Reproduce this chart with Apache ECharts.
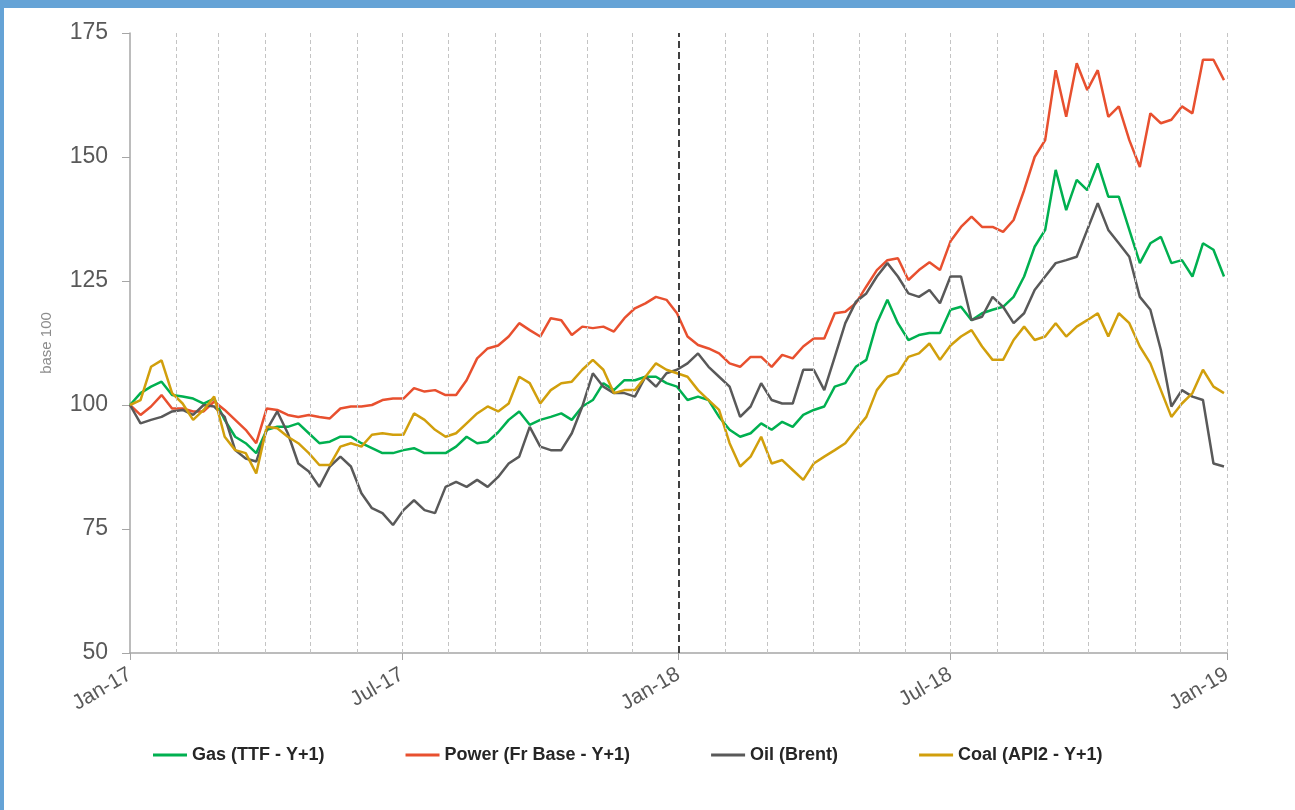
<!DOCTYPE html>
<html>
<head>
<meta charset="utf-8">
<title>Energy prices base 100</title>
<script src="https://cdn.jsdelivr.net/npm/echarts@6/dist/echarts.min.js"></script>
<style>
  html, body { margin: 0; padding: 0; background: #fff; }
  .frame { position: relative; width: 1295px; height: 810px; overflow: hidden; }
  .top-bar { position: absolute; left: 0; top: 0; width: 1295px; height: 8px; background: #65a3d6; z-index: 2; }
  .left-bar { position: absolute; left: 0; top: 0; width: 4px; height: 810px; background: #65a3d6; z-index: 2; }
  #chart { position: absolute; left: 0; top: 0; width: 1295px; height: 810px; }
</style>
</head>
<body>
<div class="frame">
  <div class="top-bar"></div>
  <div class="left-bar"></div>
  <div id="chart"></div>
</div>
<script>
// weekly samples, first one on 1 Jan 2017
var startYear = 2017
var sampleCount = 105
var DAY = 86400000

var gas = [
  100, 102.4, 103.7, 104.7, 102, 101.7, 101.3, 100.3, 101.3, 97,
  93.6, 92.3, 90.3, 95, 95.6, 95.6, 96.3, 94.3, 92.3, 92.6,
  93.6, 93.6, 92.3, 91.3, 90.3, 90.3, 90.9, 91.3, 90.3, 90.3,
  90.3, 91.6, 93.6, 92.3, 92.6, 94.5, 97, 98.7, 96, 97,
  97.6, 98.3, 97, 99.7, 101, 104.4, 103, 105, 105, 105.7,
  105.7, 104.4, 103.7, 101, 101.7, 101, 97.6, 95, 93.6, 94.3,
  96.3, 95, 96.6, 95.6, 98, 99, 99.7, 103.7, 104.4, 107.7,
  109.1, 116.5, 121.2, 116.5, 113.1, 114.1, 114.5, 114.5, 119.2, 119.8,
  117.1, 118.5, 119.2, 119.8, 121.8, 125.9, 131.9, 135.3, 147.4, 139.3,
  145.4, 143.3, 148.7, 142, 142, 135.3, 128.6, 132.6, 133.9, 128.6,
  129.2, 125.9, 132.6, 131.3, 125.9
]
var power = [
  100, 98, 99.7, 102, 99.3, 99.3, 98.7, 98.7, 100.7, 99,
  97, 95, 92.3, 99.3, 99, 98, 97.6, 98, 97.6, 97.3,
  99.3, 99.7, 99.7, 100, 101, 101.3, 101.3, 103.4, 102.7, 103,
  102, 102, 105, 109.4, 111.4, 112, 113.8, 116.5, 115.1, 113.8,
  117.5, 117.1, 114.1, 115.8, 115.5, 115.8, 114.8, 117.5, 119.5, 120.5,
  121.8, 121.2, 118.5, 113.8, 112.1, 111.4, 110.4, 108.4, 107.7, 109.7,
  109.7, 107.7, 110.1, 109.4, 111.8, 113.4, 113.4, 118.5, 118.8, 120.5,
  123.9, 127.2, 129.2, 129.6, 125.2, 127.2, 128.8, 127.2, 133, 135.9,
  138, 135.9, 135.9, 134.9, 137.3, 143.3, 150, 153.4, 167.5, 158.1,
  168.9, 163.5, 167.5, 158.1, 160.2, 153.4, 148, 158.8, 156.8, 157.5,
  160.2, 158.8, 169.6, 169.6, 165.5
]
var oil = [
  100, 96.3, 97, 97.6, 98.7, 99, 98, 100, 99.7, 97.6,
  90.9, 89.2, 88.6, 95, 98.7, 94.3, 88.2, 86.6, 83.5, 87.6,
  89.6, 87.6, 82.2, 79.2, 78.2, 75.8, 78.8, 80.8, 78.8, 78.2,
  83.5, 84.5, 83.5, 84.9, 83.5, 85.5, 88.2, 89.6, 95.6, 91.6,
  90.9, 90.9, 94.3, 99.7, 106.4, 103.7, 102.4, 102.4, 101.7, 105.7,
  103.7, 106.4, 107.1, 108.4, 110.4, 107.7, 105.7, 103.7, 97.6, 99.7,
  104.4, 101, 100.3, 100.3, 107.1, 107.1, 103, 109.7, 116.5, 120.8,
  122.5, 125.9, 128.6, 125.9, 122.5, 121.8, 123.2, 120.5, 125.9, 125.9,
  117.1, 117.8, 121.8, 119.8, 116.5, 118.5, 123.2, 125.9, 128.6, 129.2,
  129.9, 135.3, 140.7, 135.3, 132.6, 129.9, 121.8, 119.2, 111.1, 99.7,
  103, 101.7, 101, 88.2, 87.6
]
var coal = [
  100, 101, 107.7, 109, 102.4, 100.3, 97, 99, 101.7, 93.6,
  90.9, 90.3, 86.2, 95.6, 95.3, 93.6, 92.3, 90.3, 87.9, 87.9,
  91.6, 92.3, 91.6, 94, 94.3, 94, 94, 98.3, 97, 95,
  93.6, 94.3, 96.3, 98.3, 99.7, 98.7, 100.3, 105.7, 104.4, 100.3,
  103, 104.4, 104.7, 107.1, 109.1, 107.1, 102.4, 103, 103, 105.7,
  108.4, 107.1, 106.4, 105.7, 103, 101, 99, 92.3, 87.6, 89.6,
  93.6, 88.2, 88.9, 86.9, 84.9, 88.2, 89.6, 90.9, 92.3, 95,
  97.6, 103, 105.7, 106.4, 109.7, 110.4, 112.4, 109.1, 112, 113.8,
  115.1, 111.8, 109.1, 109.1, 113.1, 115.8, 113.1, 113.8, 116.5, 113.8,
  115.8, 117.1, 118.5, 113.8, 118.5, 116.5, 111.8, 108.4, 103, 97.6,
  100.3, 102.4, 107.1, 103.7, 102.4
]

var seriesNames = ['Gas (TTF - Y+1)', 'Power (Fr Base - Y+1)', 'Oil (Brent)', 'Coal (API2 - Y+1)']
var seriesColors = ['#00b050', '#e8502f', '#595959', '#d19f0c']
var monthNames = ['Jan', 'Feb', 'Mar', 'Apr', 'May', 'Jun', 'Jul', 'Aug', 'Sep', 'Oct', 'Nov', 'Dec']

// x axis counts days from 1 Jan 2017
var t0 = Date.UTC(startYear, 0, 1)
function dayOf(year, month, date) {
  return Math.round((Date.UTC(year, month, date) - t0) / DAY)
}
function labelOf(day) {
  var d = new Date(t0 + day * DAY)
  return monthNames[d.getUTCMonth()] + '-' + String(d.getUTCFullYear()).slice(2)
}

var weekDays = []
for (var i = 0; i < sampleCount; i++) weekDays.push(7 * i)

// labelled ticks every six months
var halfYears = []
for (var h = 0; h <= 4; h++) halfYears.push(dayOf(startYear, h * 6, 1))

// dashed month lines (Jan-18 gets the dark one)
var monthLines = []
for (var m = 1; m <= 24; m++) {
  var x = dayOf(startYear, m, 1)
  if (m === 12) {
    monthLines.push({ xAxis: x, lineStyle: { color: '#404040', width: 2, type: [7, 4] } })
  } else {
    monthLines.push({ xAxis: x })
  }
}

function toPairs(values) {
  return values.map(function (v, i) { return [weekDays[i], v] })
}

var chart = echarts.init(document.getElementById('chart'))
var lines = [gas, power, oil, coal].map(function (values, i) {
  return {
    name: seriesNames[i],
    type: 'line',
    data: toPairs(values),
    showSymbol: false,
    symbol: 'none',
    z: 3,
    lineStyle: { width: 2.5, color: seriesColors[i] },
    itemStyle: { color: seriesColors[i] }
  }
})

var option = {
  animation: false,
  backgroundColor: '#fff',
  grid: { left: 130, right: 68, top: 33, bottom: 157 },
  legend: {
    data: seriesNames,
    left: 148,
    top: 741,
    icon: 'rect',
    itemWidth: 34,
    itemHeight: 3,
    itemGap: 81,
    textStyle: {
      fontFamily: 'Liberation Sans',
      fontWeight: 'bold',
      fontSize: 18,
      color: '#262626'
    }
  },
  xAxis: {
    type: 'value',
    min: 0,
    max: halfYears[halfYears.length - 1],
    axisLine: { lineStyle: { color: '#a6a6a6', width: 1.5 } },
    axisTick: { show: true, length: 7, customValues: halfYears, lineStyle: { color: '#a6a6a6' } },
    splitLine: { show: false },
    axisLabel: {
      customValues: halfYears,
      rotate: 30,
      margin: 20,
      fontFamily: 'Liberation Sans',
      fontSize: 21,
      color: '#595959',
      formatter: labelOf
    }
  },
  yAxis: {
    type: 'value',
    min: 50,
    max: 175,
    interval: 25,
    name: 'base 100',
    nameLocation: 'middle',
    nameRotate: 90,
    nameGap: 76,
    nameTextStyle: { fontFamily: 'Liberation Sans', fontSize: 15, color: '#8c8c8c' },
    axisLine: { show: true, lineStyle: { color: '#a6a6a6', width: 1.5 } },
    axisTick: { show: true, length: 8, lineStyle: { color: '#a6a6a6' } },
    splitLine: { show: false },
    axisLabel: {
      margin: 22,
      fontFamily: 'Liberation Sans',
      fontSize: 23,
      color: '#595959'
    }
  },
  series: [{
    name: 'months',
    type: 'line',
    data: [],
    z: 1,
    markLine: {
      silent: true,
      symbol: 'none',
      label: { show: false },
      lineStyle: { color: '#c4c4c4', width: 1, type: [4, 3] },
      data: monthLines
    }
  }].concat(lines)
}
chart.setOption(option)
</script>
</body>
</html>
